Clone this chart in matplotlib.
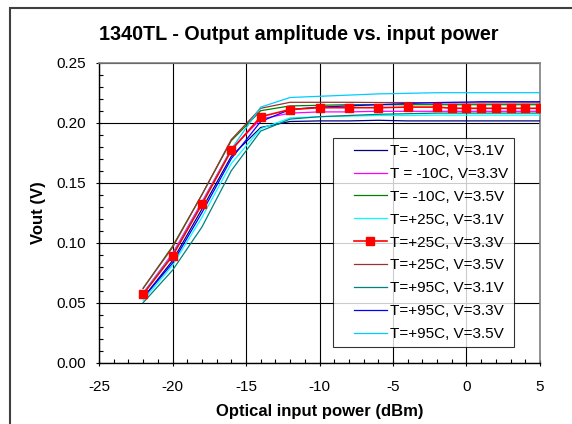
import matplotlib
matplotlib.use("Agg")
from matplotlib import pyplot as plt
from matplotlib.patches import Rectangle
from matplotlib.lines import Line2D
from matplotlib.legend_handler import HandlerLine2D
from matplotlib.ticker import MultipleLocator, FormatStrFormatter

plt.rcParams['font.family'] = ['Liberation Sans', 'DejaVu Sans']
plt.rcParams['axes.unicode_minus'] = False

power = [-22, -20, -18, -16, -14, -12, -10, -8, -6, -4, -2, -1, 0, 1, 2, 3, 4, 5]

labels = [
    "T= -10C, V=3.1V",
    "T = -10C, V=3.3V",
    "T= -10C, V=3.5V",
    "T=+25C, V=3.1V",
    "T=+25C, V=3.3V",
    "T=+25C, V=3.5V",
    "T=+95C, V=3.1V",
    "T=+95C, V=3.3V",
    "T=+95C, V=3.5V",
]
colors = ["#000080", "#FF00FF", "#008000", "#00FFFF", "#FF0000",
          "#993333", "#008080", "#0000FF", "#00CCFF"]

vout_m10_31 = [0.054, 0.085, 0.128, 0.172, 0.196, 0.201, 0.2015, 0.2015, 0.202, 0.2015,
               0.2015, 0.2015, 0.2015, 0.2015, 0.2015, 0.2015, 0.2015, 0.2015]
vout_m10_33 = [0.058, 0.091, 0.134, 0.178, 0.203, 0.208, 0.209, 0.209, 0.2095, 0.2095,
               0.2095, 0.2095, 0.2095, 0.2095, 0.2095, 0.2095, 0.2095, 0.2095]
vout_m10_35 = [0.062, 0.097, 0.140, 0.185, 0.210, 0.214, 0.2145, 0.215, 0.215, 0.215,
               0.215, 0.215, 0.215, 0.215, 0.215, 0.215, 0.215, 0.215]
vout_25_31 = [0.052, 0.081, 0.121, 0.166, 0.195, 0.204, 0.205, 0.2055, 0.206, 0.206,
              0.2063, 0.2063, 0.2063, 0.2063, 0.2063, 0.2063, 0.2063, 0.2063]
vout_25_33 = [0.057, 0.089, 0.132, 0.177, 0.205, 0.211, 0.2125, 0.2125, 0.2125, 0.213,
              0.213, 0.212, 0.212, 0.212, 0.212, 0.212, 0.212, 0.212]
vout_25_35 = [0.062, 0.096, 0.140, 0.186, 0.212, 0.217, 0.217, 0.217, 0.2168, 0.2168,
              0.2165, 0.2165, 0.2165, 0.2165, 0.2165, 0.2165, 0.2165, 0.2165]
vout_95_31 = [0.050, 0.077, 0.113, 0.160, 0.193, 0.203, 0.205, 0.206, 0.207, 0.2075,
              0.208, 0.208, 0.208, 0.208, 0.208, 0.208, 0.208, 0.208]
vout_95_33 = [0.054, 0.083, 0.125, 0.170, 0.201, 0.211, 0.213, 0.214, 0.215, 0.216,
              0.2168, 0.217, 0.2172, 0.2175, 0.2175, 0.2175, 0.2175, 0.2175]
vout_95_35 = [0.058, 0.090, 0.133, 0.178, 0.213, 0.221, 0.222, 0.223, 0.224, 0.2245,
              0.225, 0.225, 0.225, 0.225, 0.225, 0.225, 0.225, 0.225]

series = [vout_m10_31, vout_m10_33, vout_m10_35, vout_25_31, vout_25_33,
          vout_25_35, vout_95_31, vout_95_33, vout_95_35]


def main():
    fig = plt.figure(figsize=(5.72, 4.24), dpi=100)
    ax = fig.add_axes([99 / 572, 1 - 362.7 / 424, 441 / 572, 300 / 424])

    for i, (vals, lab, col) in enumerate(zip(series, labels, colors)):
        if i == 4:
            ax.plot(power, vals, color=col, lw=1.2, marker="s", ms=6,
                    mec=col, label=lab, zorder=5)
        else:
            ax.plot(power, vals, color=col, lw=0.9, label=lab, zorder=3)

    ax.set_xlim(-25, 5)
    ax.set_ylim(0, 0.25)
    ax.xaxis.set_major_locator(MultipleLocator(5))
    ax.xaxis.set_minor_locator(MultipleLocator(1))
    ax.yaxis.set_major_locator(MultipleLocator(0.05))
    ax.yaxis.set_minor_locator(MultipleLocator(0.01))
    ax.yaxis.set_major_formatter(FormatStrFormatter("%.2f"))
    ax.grid(True, which="major", color="black", lw=0.8, zorder=0)
    ax.set_axisbelow(True)

    ax.tick_params(which="major", direction="inout", length=5, width=0.8,
                   labelsize=11, colors="black")
    ax.tick_params(axis="x", which="major", pad=10)
    ax.tick_params(axis="y", which="major", pad=7)
    ax.tick_params(which="minor", direction="in", length=3, width=0.8)
    for side in ["top", "right"]:
        ax.spines[side].set_color("#808080")
        ax.spines[side].set_linewidth(1.2)
    for side in ["left", "bottom"]:
        ax.spines[side].set_linewidth(1.0)

    ax.set_xlabel("Optical input power (dBm)", fontsize=12, fontweight="bold",
                  labelpad=7)
    ax.set_ylabel("Vout (V)", fontsize=12, fontweight="bold", labelpad=7)
    fig.text(0.522, 1 - 35 / 424, "1340TL - Output amplitude vs. input power",
             fontsize=14.2, fontweight="bold", ha="center", va="center")

    leg = ax.legend(loc="upper left", bbox_to_anchor=(0.531, 0.749),
                    fontsize=11, frameon=True, fancybox=False,
                    edgecolor="black", handlelength=3.1, labelspacing=0.58,
                    borderpad=0.4, handletextpad=0.2, borderaxespad=0,
                    handler_map={Line2D: HandlerLine2D(xpad=0.95)})
    leg.get_frame().set_linewidth(0.8)
    leg.set_zorder(10)

    fig.patches.append(Rectangle((10 / 572, -0.1), 1.2, 1 - 8 / 424 + 0.1,
                                 transform=fig.transFigure, fill=False,
                                 edgecolor="#404040", lw=1.5))

    fig.savefig("out.png", dpi=100)


if __name__ == "__main__":
    main()
